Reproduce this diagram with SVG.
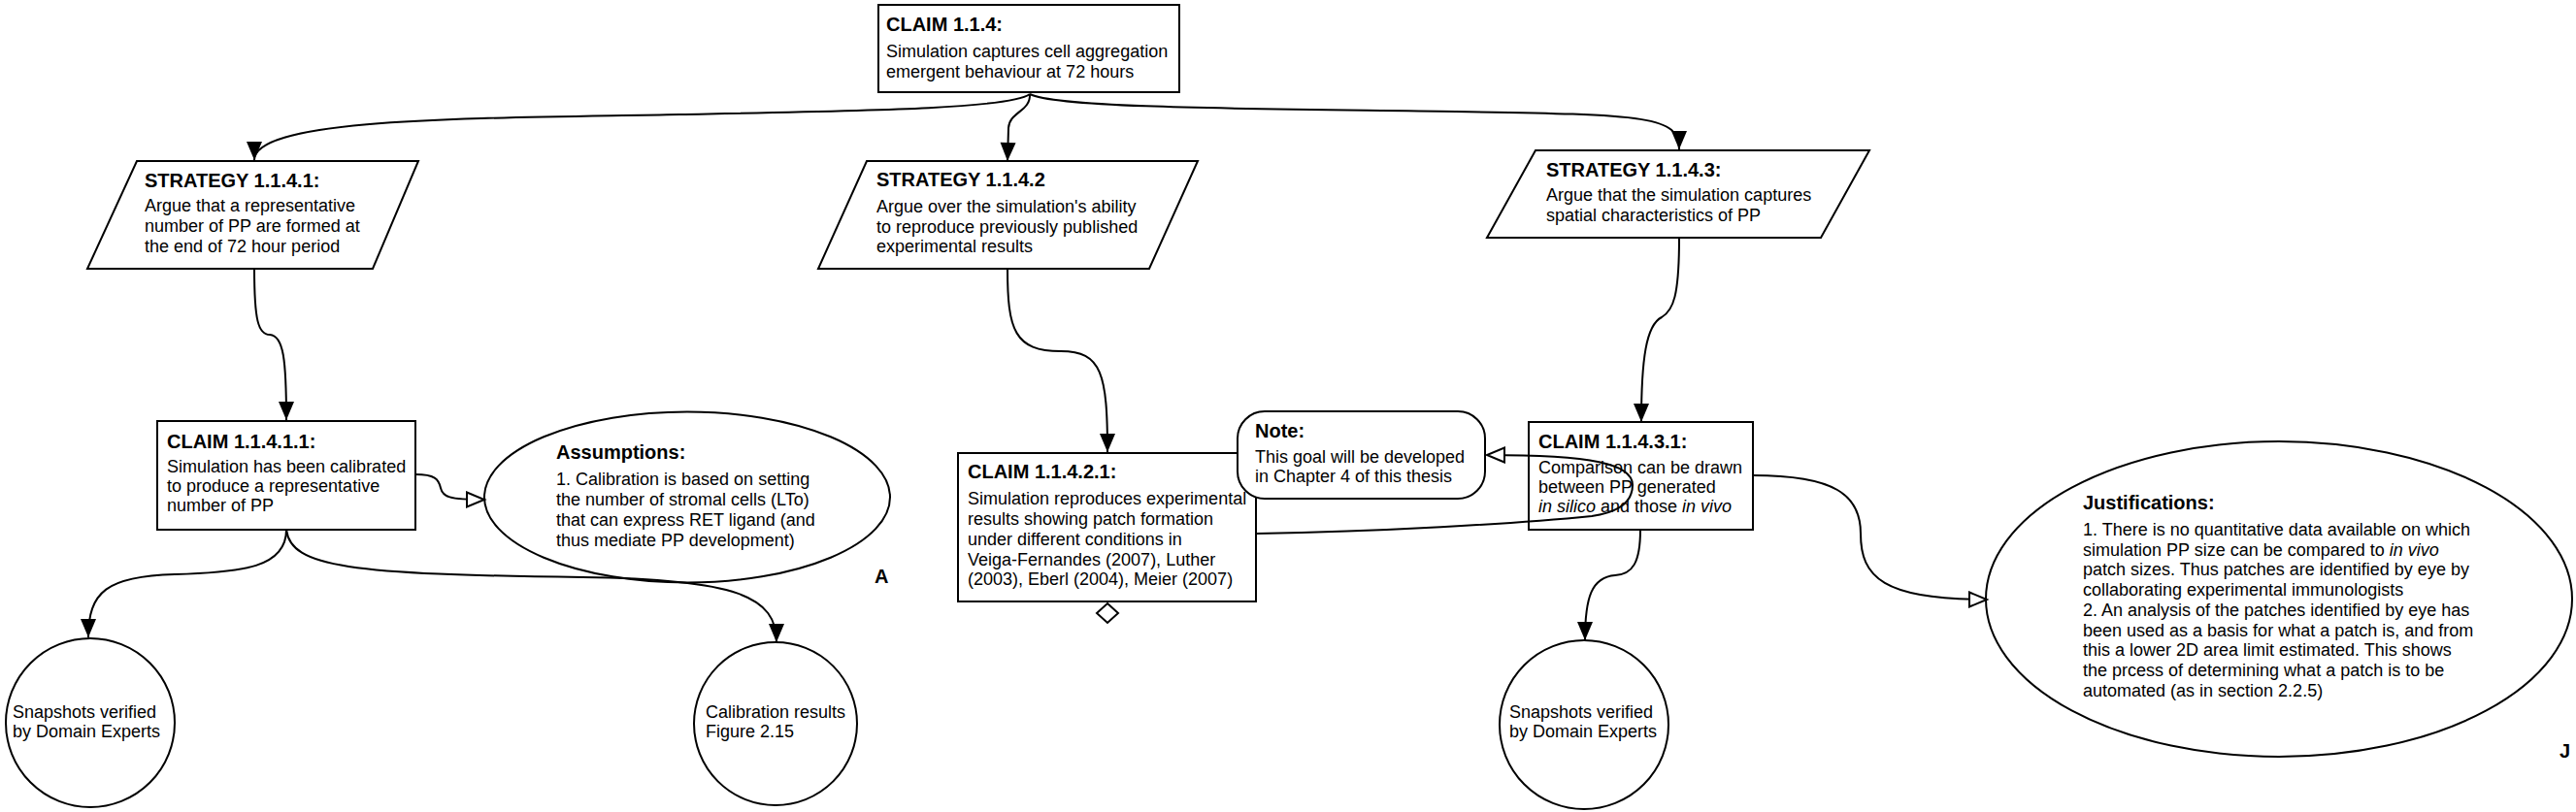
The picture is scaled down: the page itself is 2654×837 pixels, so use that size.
<svg xmlns="http://www.w3.org/2000/svg" width="2654" height="837" viewBox="0 0 2654 837">
<style>
.n{fill:#fff;stroke:#000;stroke-width:2}
.t{font-family:"Liberation Sans",Arial,sans-serif;font-size:18px;fill:#000}
.h{font-family:"Liberation Sans",Arial,sans-serif;font-size:20px;font-weight:bold;fill:#000}
.c{fill:none;stroke:#000;stroke-width:2}
.f{marker-end:url(#arr)}
.o{marker-end:url(#harr)}
.i{font-style:italic}
</style>
<defs>
<marker id="arr" markerUnits="userSpaceOnUse" viewBox="0 0 20 16" markerWidth="20" markerHeight="16" refX="19" refY="8" orient="auto" overflow="visible"><path d="M0,0 L19,8 L0,16 z" fill="#000"/></marker>
<marker id="harr" markerUnits="userSpaceOnUse" viewBox="0 0 20 18" markerWidth="20" markerHeight="18" refX="19" refY="9" orient="auto" overflow="visible"><path d="M1,1.5 L19,9 L1,16.5 z" fill="#fff" stroke="#000" stroke-width="2"/></marker>
</defs>
<rect width="2654" height="837" fill="#fff"/>

<g id="claim-1-1-4">
<rect class="n" x="905" y="5" width="310" height="90"/>
<text class="h" x="913" y="32">CLAIM 1.1.4:</text>
<text class="t" x="913" y="59">Simulation captures cell aggregation</text>
<text class="t" x="913" y="80">emergent behaviour at 72 hours</text>
</g>

<g id="strategy-1-1-4-1">
<polygon class="n" points="141,166 431,166 384,277 90,277"/>
<text class="h" x="149" y="193">STRATEGY 1.1.4.1:</text>
<text class="t" x="149" y="218">Argue that a representative</text>
<text class="t" x="149" y="239">number of PP are formed at</text>
<text class="t" x="149" y="260">the end of 72 hour period</text>
</g>

<g id="strategy-1-1-4-2">
<polygon class="n" points="893,166 1234,166 1184,277 843,277"/>
<text class="h" x="903" y="192">STRATEGY 1.1.4.2</text>
<text class="t" x="903" y="219">Argue over the simulation's ability</text>
<text class="t" x="903" y="240">to reproduce previously published</text>
<text class="t" x="903" y="260">experimental results</text>
</g>

<g id="strategy-1-1-4-3">
<polygon class="n" points="1582,155 1926,155 1876,245 1532,245"/>
<text class="h" x="1593" y="182">STRATEGY 1.1.4.3:</text>
<text class="t" x="1593" y="207">Argue that the simulation captures</text>
<text class="t" x="1593" y="228">spatial characteristics of PP</text>
</g>

<g id="claim-1-1-4-1-1">
<rect class="n" x="162" y="434" width="266" height="112"/>
<text class="h" x="172" y="462">CLAIM 1.1.4.1.1:</text>
<text class="t" x="172" y="487">Simulation has been calibrated</text>
<text class="t" x="172" y="507">to produce a representative</text>
<text class="t" x="172" y="527">number of PP</text>
</g>

<g id="assumptions">
<ellipse class="n" cx="708" cy="512.5" rx="209" ry="88"/>
<text class="h" x="573" y="473">Assumptions:</text>
<text class="t" x="573" y="500">1. Calibration is based on setting</text>
<text class="t" x="573" y="521">the number of stromal cells (LTo)</text>
<text class="t" x="573" y="542">that can express RET ligand (and</text>
<text class="t" x="573" y="563">thus mediate PP development)</text>
</g>

<g id="label-a">
<text class="h" x="901" y="601">A</text>
</g>

<g id="claim-1-1-4-2-1">
<rect class="n" x="987" y="467" width="307" height="153"/>
<text class="h" x="997" y="493">CLAIM 1.1.4.2.1:</text>
<text class="t" x="997" y="520">Simulation reproduces experimental</text>
<text class="t" x="997" y="541">results showing patch formation</text>
<text class="t" x="997" y="562">under different conditions in</text>
<text class="t" x="997" y="583">Veiga-Fernandes (2007), Luther</text>
<text class="t" x="997" y="603">(2003), Eberl (2004), Meier (2007)</text>
<polygon class="n" points="1141,622 1152,632 1141,642 1130,632"/>
</g>

<g id="note">
<rect class="n" x="1275" y="424" width="255" height="90" rx="28" ry="28"/>
<text class="h" x="1293" y="451">Note:</text>
<text class="t" x="1293" y="477">This goal will be developed</text>
<text class="t" x="1293" y="497">in Chapter 4 of this thesis</text>
</g>

<g id="claim-1-1-4-3-1">
<rect class="n" x="1575" y="435" width="231" height="111"/>
<text class="h" x="1585" y="462">CLAIM 1.1.4.3.1:</text>
<text class="t" x="1585" y="488">Comparison can be drawn</text>
<text class="t" x="1585" y="508">between PP generated</text>
<text class="t" x="1585" y="528"><tspan class="i">in silico</tspan> and those <tspan class="i">in vivo</tspan></text>
</g>

<g id="justifications">
<ellipse class="n" cx="2348" cy="617.5" rx="302" ry="162.5"/>
<text class="h" x="2146" y="525">Justifications:</text>
<text class="t" x="2146" y="552">1. There is no quantitative data available on which</text>
<text class="t" x="2146" y="573">simulation PP size can be compared to <tspan class="i">in vivo</tspan></text>
<text class="t" x="2146" y="593">patch sizes. Thus patches are identified by eye by</text>
<text class="t" x="2146" y="614">collaborating experimental immunologists</text>
<text class="t" x="2146" y="635">2. An analysis of the patches identified by eye has</text>
<text class="t" x="2146" y="656">been used as a basis for what a patch is, and from</text>
<text class="t" x="2146" y="676">this a lower 2D area limit estimated. This shows</text>
<text class="t" x="2146" y="697">the prcess of determining what a patch is to be</text>
<text class="t" x="2146" y="718">automated (as in section 2.2.5)</text>
</g>

<g id="label-j">
<text class="h" x="2637" y="781">J</text>
</g>

<g id="solution-snapshots-1">
<circle class="n" cx="93" cy="745" r="87"/>
<text class="t" x="13" y="740">Snapshots verified</text>
<text class="t" x="13" y="760">by Domain Experts</text>
</g>

<g id="solution-calibration">
<circle class="n" cx="799" cy="746" r="84"/>
<text class="t" x="727" y="740">Calibration results</text>
<text class="t" x="727" y="760">Figure 2.15</text>
</g>

<g id="solution-snapshots-2">
<circle class="n" cx="1632" cy="747" r="87"/>
<text class="t" x="1555" y="740">Snapshots verified</text>
<text class="t" x="1555" y="760">by Domain Experts</text>
</g>

<g id="connectors">
<path class="c f" d="M1061,97 C1040,112 900,114 700,118 S262,120 262,165"/>
<path class="c f" d="M1061,97 C1090,112 1300,112 1500,115 S1730,120 1730,154"/>
<path class="c f" d="M1061,97 C1062,115 1040,115 1039,132 L1038,166"/>
<path class="c f" d="M262,277 C262,330 266,345 278,345 C292,346 295,370 295,433"/>
<path class="c f" d="M1038,277 C1038,340 1045,362 1093,362 C1135,362 1141,385 1141,466"/>
<path class="c f" d="M1730,245 C1730,305 1724,320 1712,327 C1696,335 1691,370 1691,435"/>
<path class="c f" d="M295,546 C295,585 250,590 180,592 C110,594 91,610 91,657"/>
<path class="c f" d="M295,546 C300,585 360,592 600,595 C760,597 800,615 800,662"/>
<path class="c f" d="M1690,546 C1690,580 1682,592 1664,593 C1640,595 1633,615 1633,660"/>
<path class="c o" d="M428,489 C448,489 452,494 454,503 C456,512 462,515 499,515"/>
<path class="c o" d="M1295,550 C1420,548 1560,540 1640,532 C1675,527 1682,512 1682,500 C1682,478 1640,469 1532,469"/>
<path class="c o" d="M1806,490 C1890,490 1917,510 1917,550 C1917,595 1940,618 2047,618"/>
</g>
</svg>
